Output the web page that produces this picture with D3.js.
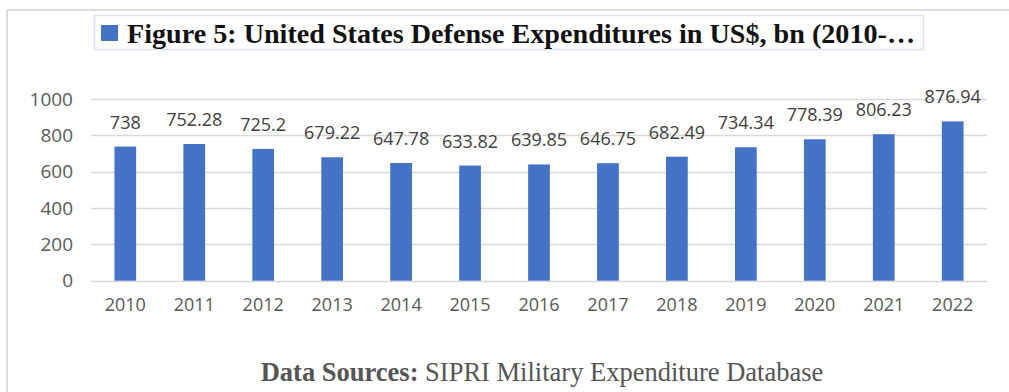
<!DOCTYPE html>
<html>
<head>
<meta charset="utf-8">
<script src="https://cdn.jsdelivr.net/npm/d3@7"></script>
<style>
  body { margin: 0; background: #fff; }
  svg { display: block; }
</style>
</head>
<body>
<script>
// chart data
var years = ["2010", "2011", "2012", "2013", "2014", "2015", "2016", "2017", "2018", "2019", "2020", "2021", "2022"];
var spending = [738, 752.28, 725.2, 679.22, 647.78, 633.82, 639.85, 646.75, 682.49, 734.34, 778.39, 806.23, 876.94];
var yTicks = [0, 200, 400, 600, 800, 1000];
var titleText = "Figure 5: United States Defense Expenditures in US$, bn (2010-\u2026";

var w = 1009, h = 392;
var margin = {top: 99, right: 22, bottom: 113, left: 91};

var svg = d3.select("body")
            .append("svg")
            .attr("width", w)
            .attr("height", h);

// outer frame (top and left edges only)
svg.append("line")
   .attr("x1", 7).attr("x2", w).attr("y1", 10).attr("y2", 10)
   .style("stroke", "#dcdcdc").style("stroke-width", 2);
svg.append("line")
   .attr("x1", 7).attr("x2", 7).attr("y1", 10).attr("y2", h)
   .style("stroke", "#dcdcdc").style("stroke-width", 2);

// title box
svg.append("rect")
   .attr("x", 94.5).attr("y", 15.5)
   .attr("width", 829).attr("height", 34)
   .style("fill", "white")
   .style("stroke", "#dde3ee")
   .style("stroke-width", 1.5);

svg.append("rect")
   .attr("x", 101).attr("y", 25)
   .attr("width", 17).attr("height", 16)
   .style("fill", "#4472c4");

svg.append("text")
   .attr("x", 127)
   .attr("y", 43)
   .attr("textLength", 788)
   .attr("lengthAdjust", "spacingAndGlyphs")
   .style("font-family", "'Liberation Serif', 'Times New Roman', serif")
   .style("font-weight", "bold")
   .style("font-size", "28px")
   .style("fill", "#111")
   .text(titleText);

// scales
var xScale = d3.scaleBand()
               .domain(years)
               .range([margin.left, w - margin.right])
               .paddingInner(0.685)
               .paddingOuter(0.34);

var yScale = d3.scaleLinear()
               .domain([0, 1000])
               .range([h - margin.bottom + 1.7, margin.top]);

// gridlines
svg.append("g")
   .selectAll("line")
   .data(yTicks)
   .enter()
   .append("line")
   .attr("x1", margin.left)
   .attr("x2", w - margin.right)
   .attr("y1", function(d) { return Math.round(yScale(d)) + 0.5; })
   .attr("y2", function(d) { return Math.round(yScale(d)) + 0.5; })
   .style("stroke", "#d9d9d9")
   .style("stroke-width", 1.3);

// y axis labels
var yAxis = d3.axisLeft(yScale)
              .tickValues(yTicks)
              .tickFormat(d3.format("d"))
              .tickSize(0)
              .tickPadding(18);

var yg = svg.append("g")
   .attr("transform", "translate(" + margin.left + ",0)")
   .call(yAxis);
yg.select(".domain").remove();
yg.selectAll("text")
  .style("font-family", "'Open Sans', sans-serif")
  .style("font-size", "19px")
  .style("fill", "#595959");

// x axis labels
var xAxis = d3.axisBottom(xScale)
              .tickSize(0)
              .tickPadding(18);

var xg = svg.append("g")
   .attr("transform", "translate(0," + yScale(0) + ")")
   .call(xAxis);
xg.select(".domain").remove();
xg.selectAll("text")
  .style("font-family", "'Open Sans', sans-serif")
  .style("font-size", "18px")
  .style("fill", "#595959");

// bars
svg.append("g")
   .selectAll("rect")
   .data(spending)
   .enter()
   .append("rect")
   .attr("x", function(d, i) { return xScale(years[i]); })
   .attr("y", function(d) { return yScale(d); })
   .attr("width", xScale.bandwidth())
   .attr("height", function(d) { return yScale(0) - yScale(d); })
   .style("fill", "#4472c4");

// value labels
svg.append("g")
   .selectAll("text")
   .data(spending)
   .enter()
   .append("text")
   .attr("x", function(d, i) { return xScale(years[i]) + xScale.bandwidth() / 2; })
   .attr("y", function(d) { return yScale(d) - 18; })
   .attr("text-anchor", "middle")
   .style("font-family", "'Open Sans', sans-serif")
   .style("font-size", "18px")
   .style("fill", "#404040")
   .text(function(d) { return d; });

// source note
var note = svg.append("text")
   .attr("x", 542)
   .attr("y", 381)
   .attr("text-anchor", "middle")
   .style("font-family", "'Liberation Serif', 'Times New Roman', serif")
   .style("font-size", "26.5px")
   .style("fill", "#555");
note.append("tspan").style("font-weight", "bold").text("Data Sources: ");
note.append("tspan").text("SIPRI Military Expenditure Database");
</script>
</body>
</html>
